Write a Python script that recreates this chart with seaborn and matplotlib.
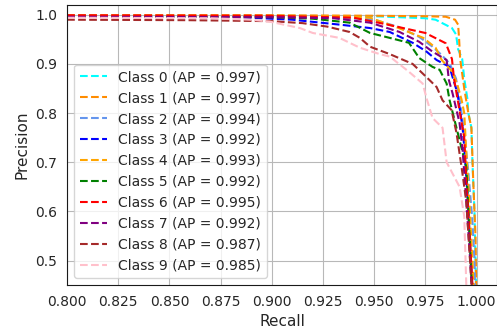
import matplotlib
matplotlib.use("Agg")
import matplotlib.pyplot as plt
import seaborn as sns

# precision/recall points, one pair of lists per class
recall_0 = [0.80, 0.90, 0.95, 0.975, 0.980, 0.988, 0.990, 0.991, 0.993, 0.994, 0.9955, 0.996, 0.9975, 0.998, 0.999, 1.0]
precision_0 = [0.998, 0.998, 0.997, 0.993, 0.990, 0.973, 0.96, 0.93, 0.91, 0.87, 0.83, 0.80, 0.77, 0.70, 0.60, 0.40]

recall_1 = [0.80, 0.90, 0.95, 0.975, 0.985, 0.9895, 0.991, 0.9915, 0.992, 0.994, 0.996, 0.9975, 0.9985, 0.9995, 1.0]
precision_1 = [0.999, 0.999, 0.998, 0.997, 0.996, 0.99, 0.98, 0.95, 0.91, 0.85, 0.80, 0.77, 0.65, 0.55, 0.40]

recall_2 = [0.80, 0.90, 0.93, 0.95, 0.962, 0.972, 0.9785, 0.983, 0.987, 0.990, 0.992, 0.994, 0.996, 0.998, 0.999, 1.0]
precision_2 = [0.998, 0.997, 0.995, 0.99, 0.975, 0.955, 0.935, 0.918, 0.90, 0.87, 0.82, 0.76, 0.68, 0.58, 0.50, 0.30]

recall_3 = [0.80, 0.88, 0.91, 0.933, 0.948, 0.9576, 0.9688, 0.9756, 0.9805, 0.9868, 0.9907, 0.9932, 0.994, 0.9955, 0.997, 0.9985, 1.0]
precision_3 = [0.997, 0.996, 0.99, 0.98, 0.973, 0.965, 0.943, 0.925, 0.908, 0.894, 0.84, 0.77, 0.73, 0.64, 0.52, 0.40, 0.25]

recall_4 = [0.80, 0.90, 0.93, 0.948, 0.962, 0.974, 0.98, 0.983, 0.988, 0.9905, 0.9927, 0.994, 0.995, 0.9965, 0.998, 1.0]
precision_4 = [0.999, 0.998, 0.997, 0.994, 0.973, 0.953, 0.933, 0.908, 0.885, 0.86, 0.827, 0.80, 0.72, 0.62, 0.50, 0.30]

recall_5 = [0.80, 0.90, 0.92, 0.938, 0.948, 0.9576, 0.967, 0.972, 0.9785, 0.982, 0.9854, 0.9868, 0.989, 0.9917, 0.995, 0.9966, 0.998, 1.0]
precision_5 = [0.997, 0.995, 0.992, 0.984, 0.963, 0.953, 0.943, 0.912, 0.894, 0.888, 0.86, 0.827, 0.79, 0.745, 0.69, 0.55, 0.42, 0.25]

recall_6 = [0.80, 0.90, 0.94, 0.952, 0.962, 0.975, 0.985, 0.988, 0.989, 0.9915, 0.994, 0.995, 0.9965, 0.998, 1.0]
precision_6 = [0.999, 0.998, 0.994, 0.984, 0.975, 0.963, 0.942, 0.91, 0.87, 0.81, 0.75, 0.66, 0.56, 0.45, 0.30]

recall_7 = [0.80, 0.90, 0.93, 0.948, 0.9624, 0.972, 0.9785, 0.9854, 0.9865, 0.9883, 0.9917, 0.9932, 0.995, 0.9966, 0.998, 1.0]
precision_7 = [0.996, 0.995, 0.993, 0.984, 0.965, 0.945, 0.925, 0.908, 0.867, 0.84, 0.78, 0.725, 0.62, 0.52, 0.42, 0.25]

recall_8 = [0.80, 0.86, 0.90, 0.915, 0.927, 0.938, 0.943, 0.948, 0.9576, 0.9688, 0.9756, 0.9805, 0.9834, 0.9878, 0.9902, 0.9927, 0.995, 0.9976, 1.0]
precision_8 = [0.99, 0.989, 0.987, 0.983, 0.976, 0.965, 0.953, 0.935, 0.92, 0.90, 0.873, 0.853, 0.826, 0.806, 0.76, 0.69, 0.62, 0.45, 0.20]

recall_9 = [0.80, 0.87, 0.89, 0.899, 0.9137, 0.92, 0.933, 0.943, 0.9527, 0.9576, 0.967, 0.9737, 0.9756, 0.9785, 0.9834, 0.9854, 0.9917, 0.994, 0.995, 0.997, 1.0]
precision_9 = [0.994, 0.993, 0.99, 0.986, 0.973, 0.963, 0.953, 0.933, 0.92, 0.915, 0.884, 0.86, 0.83, 0.79, 0.77, 0.70, 0.65, 0.59, 0.45, 0.30, 0.10]

recalls = [recall_0, recall_1, recall_2, recall_3, recall_4, recall_5, recall_6, recall_7, recall_8, recall_9]
precisions = [precision_0, precision_1, precision_2, precision_3, precision_4, precision_5, precision_6, precision_7, precision_8, precision_9]
ap_scores = [0.997, 0.997, 0.994, 0.992, 0.993, 0.992, 0.995, 0.992, 0.987, 0.985]
colors = ["aqua", "darkorange", "cornflowerblue", "blue", "orange", "green", "red", "purple", "brown", "pink"]

sns.set_style("whitegrid", {"axes.edgecolor": "0.1", "grid.color": "0.72"})

fig, ax = plt.subplots(figsize=(4.97, 3.30), dpi=100)
fig.subplots_adjust(left=0.135, right=1.0, bottom=0.136, top=0.985)

for i in range(10):
    sns.lineplot(x=recalls[i], y=precisions[i], color=colors[i], linestyle="--", linewidth=1.5,
                 sort=False, estimator=None, ax=ax,
                 label="Class %d (AP = %.3f)" % (i, ap_scores[i]))

ax.set_xlim(0.8, 1.01)
ax.set_ylim(0.45, 1.02)
ax.set_xticks([0.8, 0.825, 0.85, 0.875, 0.9, 0.925, 0.95, 0.975, 1.0])
ax.set_xticklabels(["0.800", "0.825", "0.850", "0.875", "0.900", "0.925", "0.950", "0.975", "1.000"])
ax.set_yticks([0.5, 0.6, 0.7, 0.8, 0.9, 1.0])
ax.tick_params(labelsize=10)
ax.set_xlabel("Recall", fontsize=11)
ax.set_ylabel("Precision", fontsize=11)
ax.legend(loc="lower left", fontsize=10)

plt.savefig("out.png", dpi=100)
plt.close()
